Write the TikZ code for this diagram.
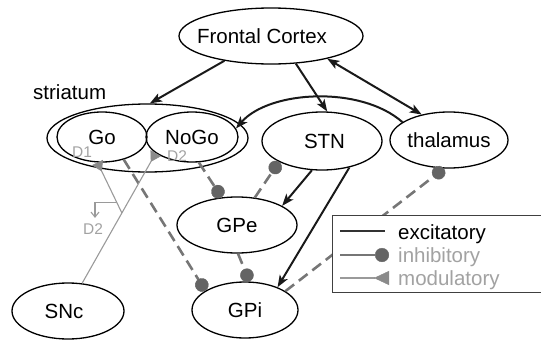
\documentclass[tikz,border=0pt]{standalone}
\usepackage{fontspec}
\setmainfont{Liberation Sans}
\usetikzlibrary{arrows.meta,shapes.geometric,calc}
\definecolor{dotgray}{HTML}{646464}
\definecolor{dashgray}{HTML}{767676}
\definecolor{modgray}{HTML}{9A9A9A}
\definecolor{trigray}{HTML}{8A8A8A}
\definecolor{labgray}{HTML}{A2A2A2}
\begin{document}
\begin{tikzpicture}[x=1pt,y=-1pt,
  region/.style={ellipse, draw=black, line width=1.3pt, inner sep=0pt,
    font=\fontsize{20.5}{24}\selectfont},
  bigfont/.style={font=\fontsize{20.5}{24}\selectfont, inner sep=0pt},
  excit/.style={line width=2pt, draw=black!90,
    -{Stealth[length=12pt,width=9pt,inset=3pt]}},
  inhib/.style={line width=2.6pt, draw=dashgray, dash pattern=on 11pt off 6pt,
    -{Circle[length=13.5pt,line width=0.4pt,color=dotgray,fill=dotgray]}},
  modul/.style={line width=1.1pt, draw=modgray,
    -{Triangle[reversed,length=10pt,width=12pt,line width=0.4pt,color=trigray,fill=trigray]}},
  dlabel/.style={text=labgray, font=\fontsize{15.5}{17}\selectfont, inner sep=0pt},
]
\useasboundingbox (0,0) rectangle (541,340);

% regions
\node[region, minimum width=184pt, minimum height=56pt] (fc) at (271,36)
  {\makebox[0pt]{Frontal Cortex\hspace{18pt}}};
\node[region, minimum width=201pt, minimum height=68pt] (str) at (147.5,138) {};
\node[region, minimum width=90pt, minimum height=50pt] (go) at (102,137)
  {\makebox[0pt]{Go}};
\node[region, minimum width=92pt, minimum height=50pt] (nogo) at (192,137)
  {\makebox[0pt]{NoGo}};
\node[region, minimum width=120pt, minimum height=58pt] (stn) at (322,141)
  {\makebox[0pt]{\hspace{5pt}STN}};
\node[region, minimum width=118pt, minimum height=56pt] (thal) at (449,140)
  {\makebox[0pt]{thalamus}};
\node[region, minimum width=120pt, minimum height=56pt] (gpe) at (237,225)
  {\makebox[0pt]{GPe}};
\node[region, minimum width=106pt, minimum height=56pt] (gpi) at (245,310)
  {\makebox[0pt]{GPi}};
\node[region, minimum width=112pt, minimum height=56pt] (snc) at (68,311)
  {\makebox[0pt]{SNc\hspace{8pt}}};
\node[bigfont, anchor=west] (strlabel) at (33,92) {striatum};

% excitatory
\draw[excit] (fc.208) -- (str.86);
\draw[excit] (fc.312) -- (stn.80);
\draw[excit, {Stealth[length=12pt,width=9pt,inset=3pt]}-{Stealth[length=12pt,width=9pt,inset=3pt]}] (fc.338) -- (thal.137);
\draw[excit] (thal.159) .. controls +(-42,-37) and +(33,-38) .. (nogo.11);
\draw[excit] (stn.251) -- (gpe.23);
\draw[excit] (stn.316) -- (gpi.35);

% inhibitory
\draw[inhib] (gpe.57) -- (stn.206);
\draw[inhib] (nogo.285) -- (gpe.119);
\draw[inhib] (go.314) -- (gpi.154);
\draw[inhib] (gpe.272) -- (gpi.81);
\draw[inhib] (gpi.25) -- (thal.260);

% modulatory
\coordinate (br) at ($(snc.63)!0.54!(nogo.204)$);
\coordinate (auto) at ($(br)!0.2!(go.260)$);
\draw[modul] (snc.63) -- (nogo.204);
\draw[modul] (br) -- (go.260);
\draw[line width=1.1pt, draw=modgray, -{Straight Barb[length=5pt,width=8pt]}]
  (auto) -| +(-22,15);
\node[dlabel] (d1) at (82,152) {D1};
\node[dlabel] (d2a) at (93,229) {D2};
\node[dlabel] (d2b) at (177,156) {D2};

% legend
\node[draw=black!75, line width=1.3pt, fill=white, minimum width=215pt,
  minimum height=77pt, anchor=north west, inner sep=0pt] (legend) at (332,215) {};
\coordinate (la1) at (340,231); \coordinate (lb1) at (385,231);
\coordinate (la2) at (340,255); \coordinate (lb2) at (389,255);
\coordinate (la3) at (340,278); \coordinate (lb3) at (389,278);
\draw[line width=1.2pt, draw=black!80] (la1) -- (lb1);
\draw[line width=1.3pt, draw=dashgray,
  -{Circle[length=14pt,line width=0.4pt,color=dotgray,fill=dotgray]}] (la2) -- (lb2);
\draw[line width=1.3pt, draw=modgray,
  -{Triangle[reversed,length=15pt,width=14pt,line width=0.4pt,color=trigray,fill=trigray]}] (la3) -- (lb3);
\node[bigfont, anchor=base west] (lex) at (398,239) {excitatory};
\node[bigfont, anchor=base west, text=labgray] (lin) at (398,262) {inhibitory};
\node[bigfont, anchor=base west, text=labgray] (lmo) at (398,285) {modulatory};
\end{tikzpicture}
\end{document}
